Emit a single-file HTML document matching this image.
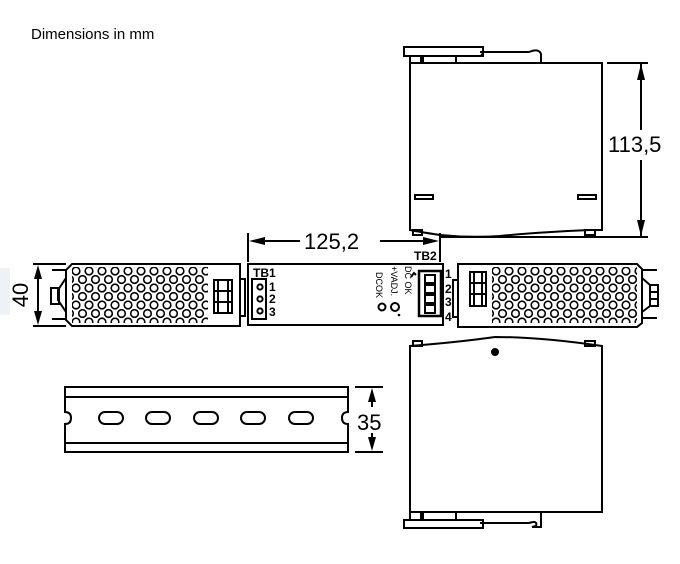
<!DOCTYPE html>
<html><head><meta charset="utf-8"><style>
html,body{margin:0;padding:0;background:#fff}
svg{display:block}
text{font-family:"Liberation Sans",Arial,sans-serif;fill:#000}
</style></head><body>
<svg width="680" height="564" viewBox="0 0 680 564" xmlns="http://www.w3.org/2000/svg">
<defs>
<pattern id="perf" x="76" y="271" width="13" height="17" patternUnits="userSpaceOnUse">
<circle cx="6.5" cy="8.5" r="3.8" fill="#fff" stroke="#000" stroke-width="1.6"/>
<circle cx="0" cy="0" r="3.8" fill="#fff" stroke="#000" stroke-width="1.6"/>
<circle cx="13" cy="0" r="3.8" fill="#fff" stroke="#000" stroke-width="1.6"/>
<circle cx="0" cy="17" r="3.8" fill="#fff" stroke="#000" stroke-width="1.6"/>
<circle cx="13" cy="17" r="3.8" fill="#fff" stroke="#000" stroke-width="1.6"/>
</pattern>
<pattern id="perf2" x="496" y="271" width="13" height="17" patternUnits="userSpaceOnUse">
<circle cx="6.5" cy="8.5" r="3.8" fill="#fff" stroke="#000" stroke-width="1.6"/>
<circle cx="0" cy="0" r="3.8" fill="#fff" stroke="#000" stroke-width="1.6"/>
<circle cx="13" cy="0" r="3.8" fill="#fff" stroke="#000" stroke-width="1.6"/>
<circle cx="0" cy="17" r="3.8" fill="#fff" stroke="#000" stroke-width="1.6"/>
<circle cx="13" cy="17" r="3.8" fill="#fff" stroke="#000" stroke-width="1.6"/>
</pattern>
</defs>
<text x="31" y="39" font-size="15">Dimensions in mm</text>
<rect x="0" y="268" width="10" height="47" fill="#eef1f6"/>

<g fill="none" stroke="#000" stroke-width="2">
<!-- TOP VIEW -->
<path d="M410 63 H602 V230 L590 230 Q540 232 500 236 Q470 238 440 235 Q420 232 410 230 Z" fill="#fff"/>
<rect x="404" y="47" width="79" height="9"/>
<path d="M410 56 V63 M421 56 V63 M423 56 V63 M456 56 V63"/>
<path d="M483 50 Q484 54 481 56 L483 53 M480 52 H529 Q539 48 541 54 V63"/>
<rect x="415" y="195" width="18" height="4"/>
<rect x="578" y="195" width="18" height="4"/>
<rect x="413" y="230" width="9" height="5"/>
<rect x="585" y="230" width="10" height="5"/>
<path d="M607 63 H648 M440 237 H648"/>
<path d="M641 63 V130 M641 160 V237"/>

<!-- BOTTOM VIEW -->
<path d="M410 346 Q460 342 495 337 Q540 337 602 346 V512 H410 Z" fill="#fff"/>
<rect x="413" y="341" width="9" height="5"/>
<rect x="585" y="341" width="10" height="5"/>
<circle cx="495" cy="352" r="3" fill="#000"/>
<rect x="404" y="520" width="79" height="8"/>
<path d="M410 512 V520 M421 512 V520 M423 512 V520 M456 512 V520"/>
<path d="M483 520 V528 M480 523 H529 Q538 520 536 526 L532 527 H541 V512"/>

<!-- 125,2 dim -->
<path d="M248 233 V262 M440 233 V262 M258 241 H300 M380 241 H432"/>

<!-- LEFT MODULE -->
<path d="M72 264 H240 V326 H72 L66 320 V270 Z" fill="#fff"/>
<rect x="72" y="267" width="136" height="56" fill="url(#perf)" stroke="none"/>
<rect x="214" y="280" width="18" height="33"/>
<path d="M214 291 H232 M214 302 H232 M218 280 V313 M228 280 V313"/>
<rect x="240" y="279" width="5" height="37"/>
<path d="M52 270 H66 M52 319 H66 M66 278 L58 290 V300 L66 312"/>
<rect x="51" y="288" width="8" height="16"/>
<path d="M33 264 H66 M33 326 H66 M38 270 V320"/>

<!-- CENTER MODULE -->
<rect x="248" y="264" width="195" height="61" fill="#fff"/>
<rect x="252" y="279" width="14" height="40"/>
<circle cx="260" cy="287" r="2.6"/><circle cx="260" cy="299" r="2.6"/><circle cx="260" cy="311" r="2.6"/>
<rect x="419" y="271" width="22" height="45" stroke-width="2.5"/>
<rect x="425" y="275" width="10" height="8"/><rect x="425" y="285" width="10" height="8"/>
<rect x="425" y="295" width="10" height="8"/><rect x="425" y="305" width="10" height="8"/>
<circle cx="382" cy="307" r="3.5"/>
<circle cx="395" cy="307" r="4"/>
<path d="M411 277 L414 273 L416 275"/>

<!-- RIGHT MODULE -->
<path d="M458 264 H637 L642 269 V323 L637 327 H458 Z" fill="#fff"/>
<rect x="492" y="267" width="145" height="56" fill="url(#perf2)" stroke="none"/>
<rect x="470" y="272" width="16" height="34"/>
<path d="M470 283 H486 M470 294 H486 M474 272 V306 M482 272 V306"/>
<rect x="453" y="280" width="5" height="37"/>
<path d="M642 270 H657 M642 318 H657 M642 278 L650 285 V306 L642 312"/>
<rect x="650" y="285" width="8" height="21"/>
<path d="M650 292 H658 M650 299 H658"/>

<!-- DIN RAIL -->
<path d="M65 387 H348 V412 Q342 412 342 418 Q342 424 348 424 V452 H65 V424 Q71 424 71 418 Q71 412 65 412 Z" fill="#fff"/>
<path d="M65 397 H348 M65 443 H348"/>
<rect x="99" y="412" width="24" height="12" rx="6"/>
<rect x="146" y="412" width="24" height="12" rx="6"/>
<rect x="194" y="412" width="24" height="12" rx="6"/>
<rect x="241" y="412" width="24" height="12" rx="6"/>
<rect x="289" y="412" width="24" height="12" rx="6"/>
<path d="M355 387 H383 M355 452 H383 M372 394 V407 M372 433 V446"/>
</g>

<g fill="#000">
<path d="M641 64 L637 80 H645 Z M641 236 L637 220 H645 Z"/>
<path d="M249 241 L265 237 V245 Z M439 241 L423 237 V245 Z"/>
<path d="M38 265 L34 279 H42 Z M38 325 L34 311 H42 Z"/>
<path d="M372 388 L368 402 H376 Z M372 451 L368 437 H376 Z"/>
<circle cx="399" cy="315" r="1.3"/>
</g>

<text x="608" y="152" font-size="22">113,5</text>
<text x="304" y="249" font-size="22">125,2</text>
<text x="357" y="430" font-size="22">35</text>
<text transform="translate(28 295) rotate(-90)" x="0" y="0" font-size="22" text-anchor="middle">40</text>

<g font-size="12" font-weight="bold">
<text x="253" y="277">TB1</text>
<text x="269" y="291">1</text><text x="269" y="303">2</text><text x="269" y="316">3</text>
<text x="414" y="260">TB2</text>
<text x="445" y="278">1</text><text x="445" y="293">2</text><text x="445" y="306">3</text><text x="445" y="321">4</text>
</g>
<g font-size="9">
<text transform="translate(376 272) rotate(90)">DCOK</text>
<text transform="translate(391 266) rotate(90)">+VADJ.</text>
<text transform="translate(405 266) rotate(90)">DC OK</text>
</g>
</svg>
</body></html>
